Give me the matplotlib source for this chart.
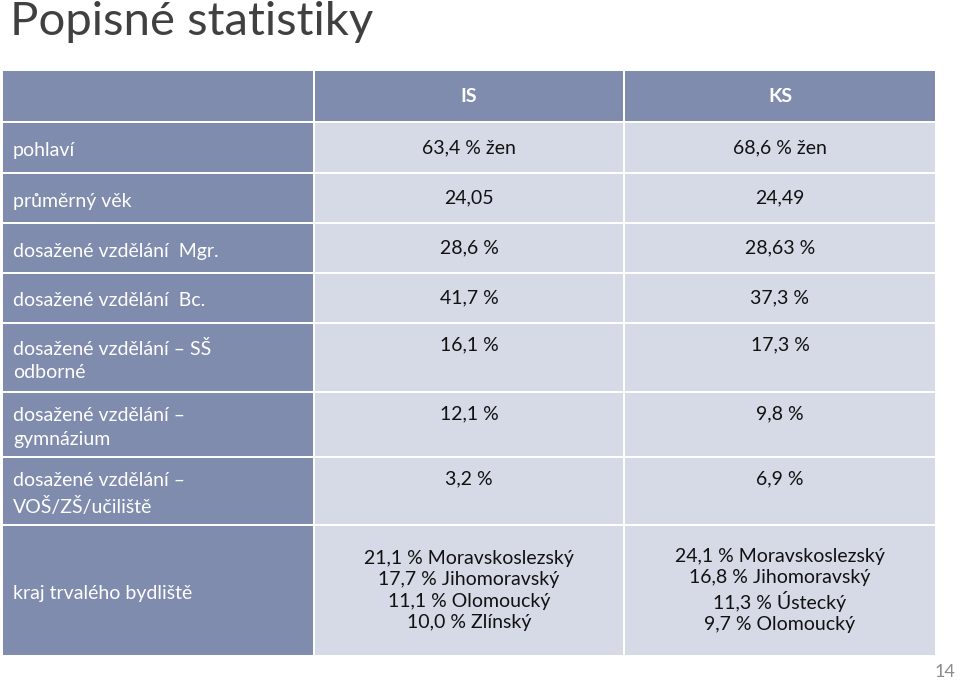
import matplotlib
matplotlib.use("Agg")
import matplotlib.pyplot as plt
from matplotlib.patches import Rectangle

title = "Popisné statistiky"
col_headers = ["", "IS", "KS"]
row_labels = ["pohlaví", "průměrný věk", "dosažené vzdělání  Mgr.", "dosažené vzdělání  Bc.",
              "dosažené vzdělání – SŠ\nodborné", "dosažené vzdělání –\ngymnázium",
              "dosažené vzdělání –\nVOŠ/ZŠ/učiliště", "kraj trvalého bydliště"]
is_vals = ["63,4 % žen", "24,05", "28,6 %", "41,7 %", "16,1 %", "12,1 %", "3,2 %",
           "21,1 % Moravskoslezský\n17,7 % Jihomoravský\n11,1 % Olomoucký\n10,0 % Zlínský"]
ks_vals = ["68,6 % žen", "24,49", "28,63 %", "37,3 %", "17,3 %", "9,8 %", "6,9 %",
           "24,1 % Moravskoslezský\n16,8 % Jihomoravský\n11,3 % Ústecký\n9,7 % Olomoucký"]

plt.rcParams["font.family"] = "Lato"
fig = plt.figure(figsize=(9.6, 6.82), dpi=100)
ax = fig.add_axes([0, 0, 1, 1])
ax.set_xlim(0, 960); ax.set_ylim(682, 0); ax.axis("off")

dark = "#7f8cae"; light = "#d6dae6"
cols = [(3, 313), (315, 623), (625, 935)]
rows = [(71, 121), (123, 172), (174, 222), (224, 272), (274, 322), (324, 391), (393, 456), (458, 524), (526, 655)]

ax.text(10, 22, title, fontsize=34, color="#404040", va="center", ha="left")
for ri, (y0, y1) in enumerate(rows):
    for ci, (x0, x1) in enumerate(cols):
        c = dark if (ri == 0 or ci == 0) else light
        ax.add_patch(Rectangle((x0, y0), x1 - x0, y1 - y0, color=c, lw=0))
        ym = (y0 + y1) / 2
        if ri == 0:
            ax.text((x0 + x1) / 2, ym, col_headers[ci], color="white", fontsize=14, fontweight="bold",
                    ha="center", va="center")
        elif ci == 0:
            ax.text(x0 + 10, ym + 3, row_labels[ri - 1], color="white", fontsize=14, ha="left",
                    va="center", linespacing=1.45)
        else:
            txt = (is_vals if ci == 1 else ks_vals)[ri - 1]
            yy = y0 + 21 if ri in (5, 6, 7) else ym
            ax.text((x0 + x1) / 2, yy, txt, color="#111111", fontsize=14, ha="center",
                    va="center", linespacing=1.3)
ax.text(945, 672, "14", color="#8a8a8a", fontsize=13, ha="center", va="center")
fig.savefig("out.png", dpi=100)
